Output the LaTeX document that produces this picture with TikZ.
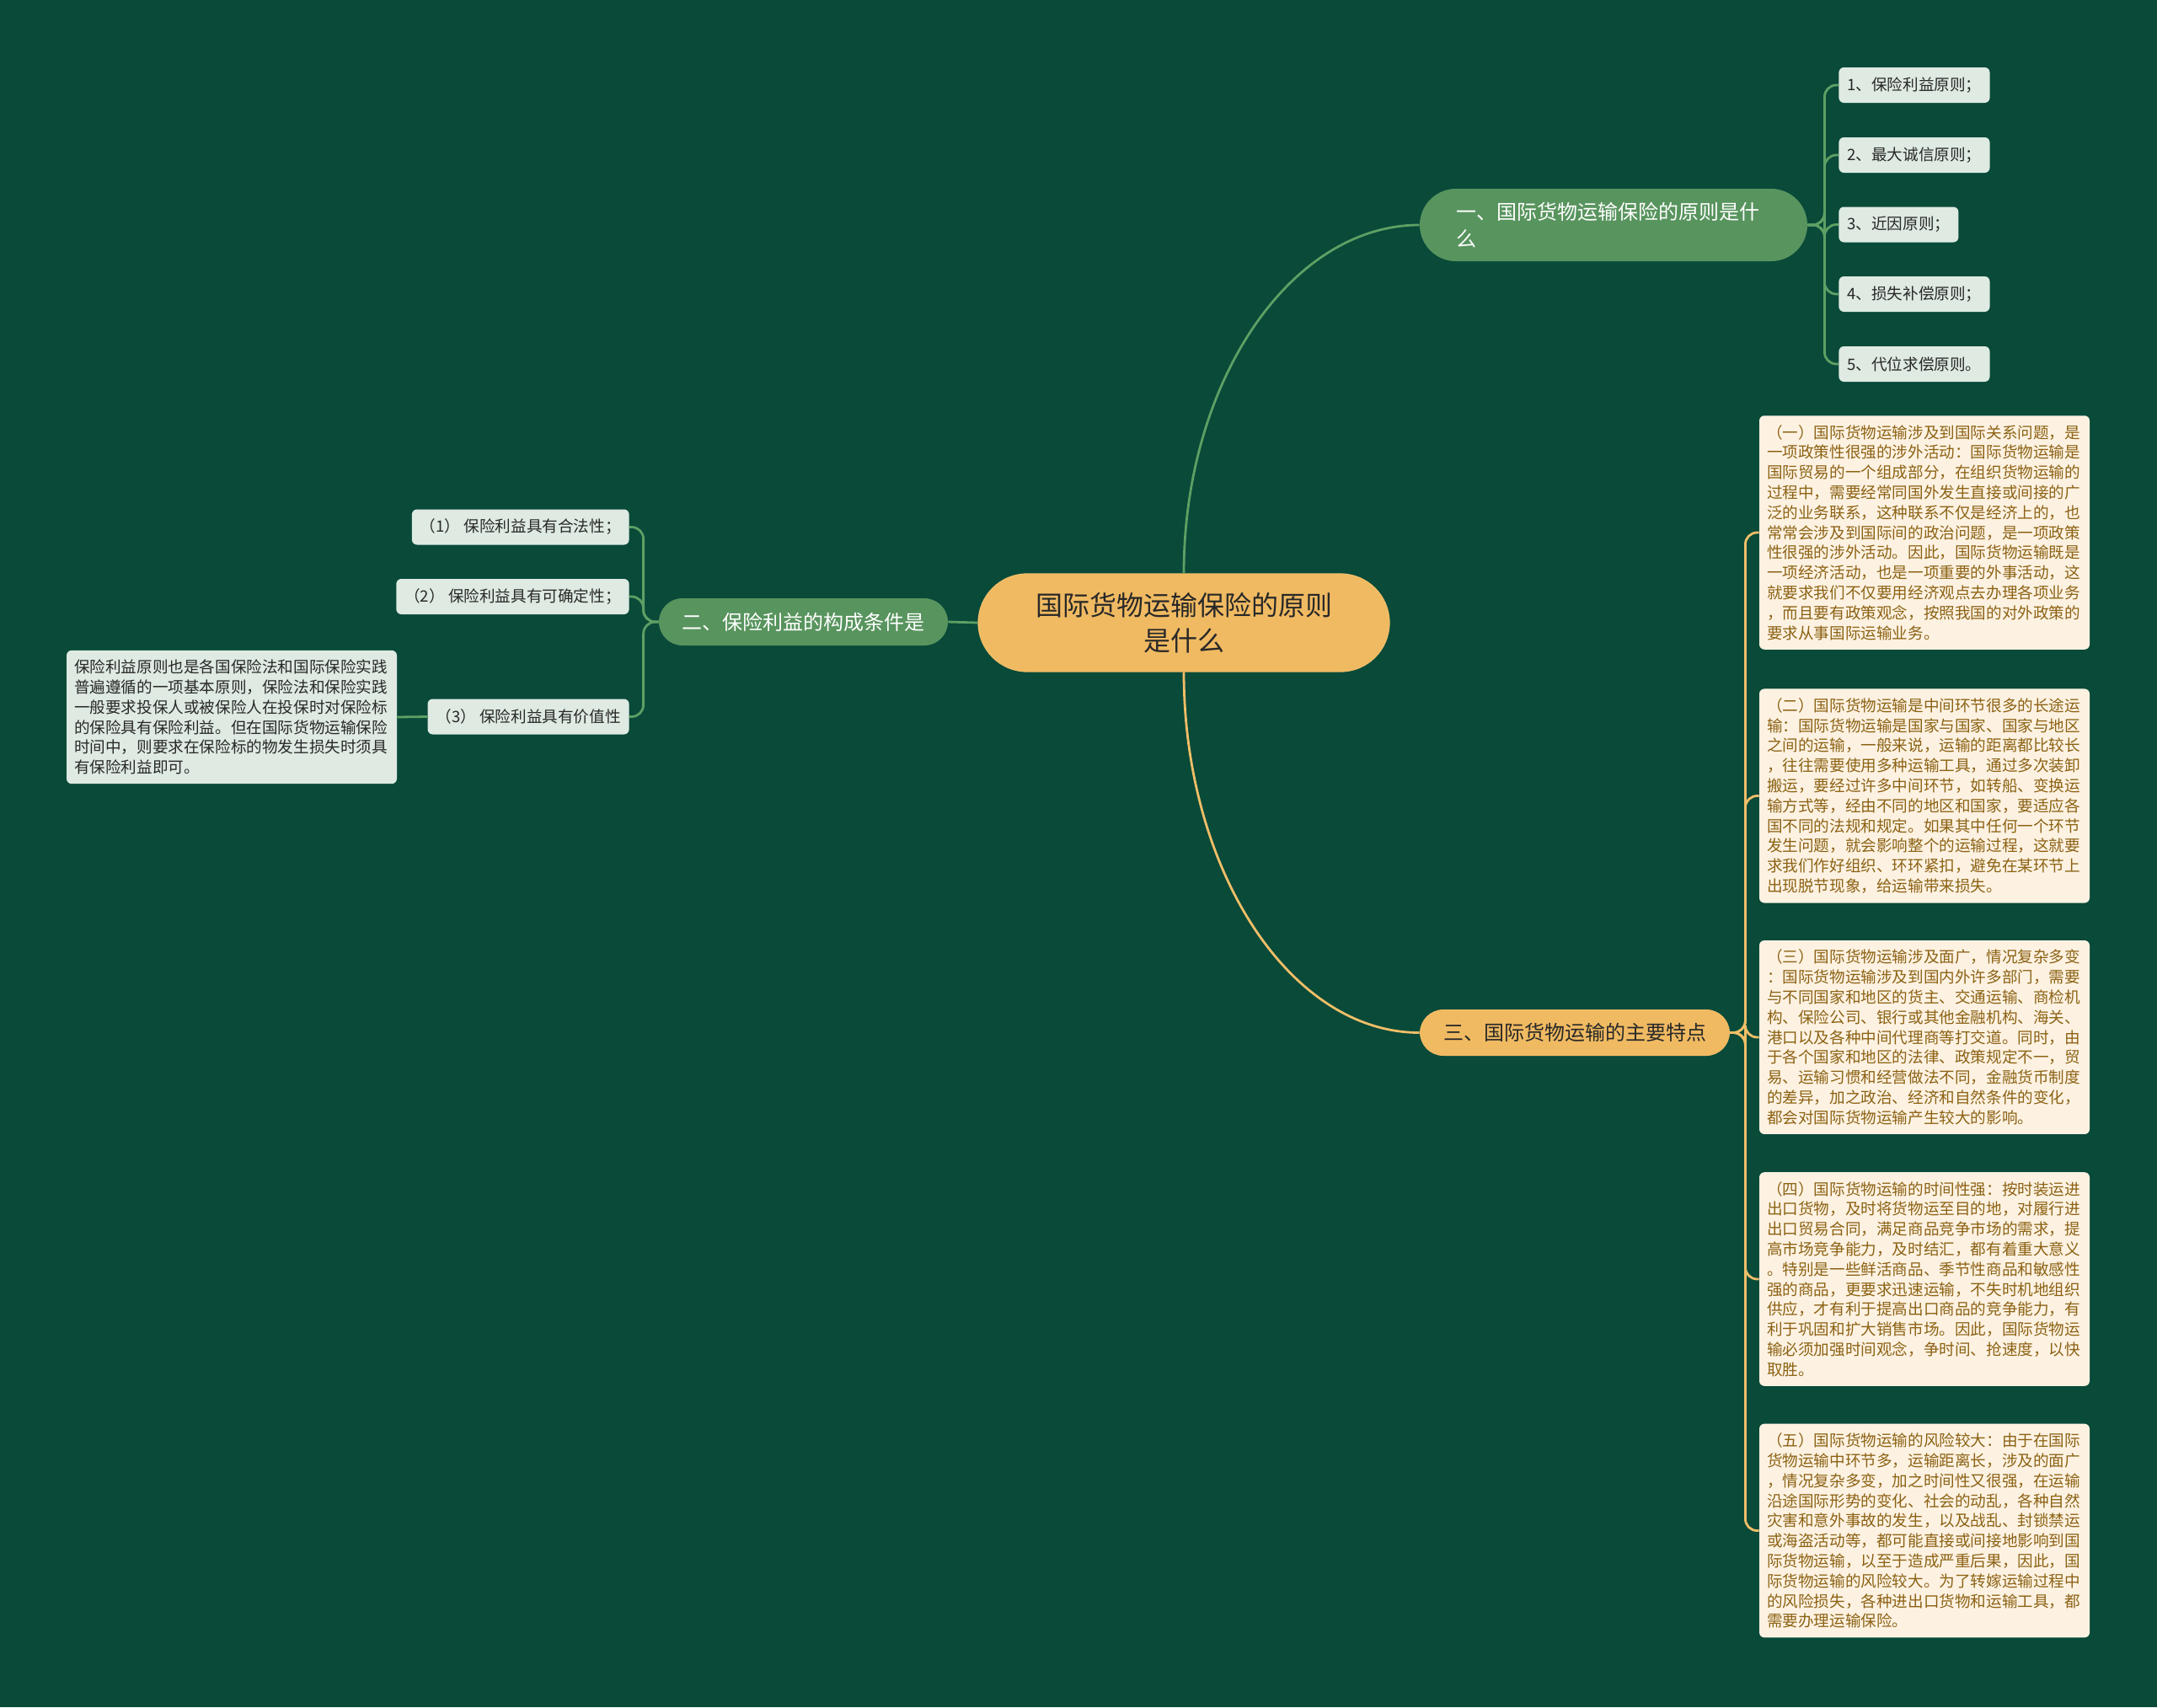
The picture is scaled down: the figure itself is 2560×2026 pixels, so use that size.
\documentclass[tikz,border=0pt]{standalone}
\usepackage{fontspec}
\newfontfamily\cjk{Noto Sans CJK SC}
\definecolor{bg}{RGB}{9,74,57}
\definecolor{gfill}{RGB}{88,148,94}
\definecolor{gline}{RGB}{94,160,100}
\definecolor{ofill}{RGB}{240,186,98}
\definecolor{oline}{RGB}{240,190,104}
\definecolor{leaf}{RGB}{222,234,226}
\definecolor{cream}{RGB}{253,242,226}
\definecolor{brown}{RGB}{140,98,20}
\definecolor{dark}{RGB}{40,40,40}
\tikzset{
  pill/.style={inner sep=0pt, font=\cjk\fontsize{12pt}{16pt}\selectfont},
  leafbox/.style={fill=leaf, rounded corners=3pt, inner xsep=5pt, inner ysep=0pt, minimum height=21pt, text=dark, font=\cjk\fontsize{9.3pt}{11.9pt}\selectfont},
  textbox/.style={rounded corners=3pt, inner xsep=4.5pt, inner ysep=5.5pt, text width=187pt, align=left, font=\cjk\fontsize{9.3pt}{11.9pt}\selectfont},
  gconn/.style={draw=gline, line width=1.4pt, rounded corners=7pt},
  oconn/.style={draw=oline, line width=1.4pt, rounded corners=7pt},
}
\begin{document}
\begin{tikzpicture}[x=0.5pt,y=-0.5pt]
\path[fill=bg] (0,0) rectangle (2560,2026);
\useasboundingbox (0,0) rectangle (2560,2026);

% central
\node[pill, fill=ofill, draw=oline, line width=0.6pt, rounded corners=29pt, minimum width=244pt, minimum height=58pt, text=dark, align=center, font=\cjk\fontsize{16pt}{21pt}\selectfont] (c) at (1405,739) {国际货物运输保险的原则\\是什么};

% branches
\node[pill, fill=gfill, rounded corners=21.5pt, minimum width=230pt, minimum height=43pt, text=white, text width=187pt, align=left] (b1) at (1915,267) {一、国际货物运输保险的原则是什\\么};
\node[pill, fill=gfill, rounded corners=14pt, minimum width=171.5pt, minimum height=28pt, text=white] (b2) at (953.5,738) {二、保险利益的构成条件是};
\node[pill, fill=ofill, rounded corners=14pt, minimum width=184pt, minimum height=27.5pt, text=dark] (b3) at (1869,1225.5) {三、国际货物运输的主要特点};

% branch 1 leaves
\node[leafbox, anchor=west] (p1) at (2182,101) {1、保险利益原则；};
\node[leafbox, anchor=west] (p2) at (2182,184) {2、最大诚信原则；};
\node[leafbox, anchor=west] (p3) at (2182,266.5) {3、近因原则；};
\node[leafbox, anchor=west] (p4) at (2182,349) {4、损失补偿原则；};
\node[leafbox, anchor=west] (p5) at (2182,432) {5、代位求偿原则。};

% branch 2 leaves
\node[leafbox, anchor=east] (q1) at (747,625.5) {（1） 保险利益具有合法性；};
\node[leafbox, anchor=east] (q2) at (747,708) {（2） 保险利益具有可确定性；};
\node[leafbox, anchor=east] (q3) at (747,850.5) {（3） 保险利益具有价值性};

\node[textbox, fill=leaf, text=dark] (q3d) at (275,851) {保险利益原则也是各国保险法和国际保险实践\\普遍遵循的一项基本原则，保险法和保险实践\\一般要求投保人或被保险人在投保时对保险标\\的保险具有保险利益。但在国际货物运输保险\\时间中，则要求在保险标的物发生损失时须具\\有保险利益即可。};

% branch 3 boxes
\node[textbox, fill=cream, text=brown] (r1) at (2284,632) {（一）国际货物运输涉及到国际关系问题，是\\一项政策性很强的涉外活动：国际货物运输是\\国际贸易的一个组成部分，在组织货物运输的\\过程中，需要经常同国外发生直接或间接的广\\泛的业务联系，这种联系不仅是经济上的，也\\常常会涉及到国际间的政治问题，是一项政策\\性很强的涉外活动。因此，国际货物运输既是\\一项经济活动，也是一项重要的外事活动，这\\就要求我们不仅要用经济观点去办理各项业务\\，而且要有政策观念，按照我国的对外政策的\\要求从事国际运输业务。};
\node[textbox, fill=cream, text=brown] (r2) at (2284,944.5) {（二）国际货物运输是中间环节很多的长途运\\输：国际货物运输是国家与国家、国家与地区\\之间的运输，一般来说，运输的距离都比较长\\，往往需要使用多种运输工具，通过多次装卸\\搬运，要经过许多中间环节，如转船、变换运\\输方式等，经由不同的地区和国家，要适应各\\国不同的法规和规定。如果其中任何一个环节\\发生问题，就会影响整个的运输过程，这就要\\求我们作好组织、环环紧扣，避免在某环节上\\出现脱节现象，给运输带来损失。};
\node[textbox, fill=cream, text=brown] (r3) at (2284,1231) {（三）国际货物运输涉及面广，情况复杂多变\\：国际货物运输涉及到国内外许多部门，需要\\与不同国家和地区的货主、交通运输、商检机\\构、保险公司、银行或其他金融机构、海关、\\港口以及各种中间代理商等打交道。同时，由\\于各个国家和地区的法律、政策规定不一，贸\\易、运输习惯和经营做法不同，金融货币制度\\的差异，加之政治、经济和自然条件的变化，\\都会对国际货物运输产生较大的影响。};
\node[textbox, fill=cream, text=brown] (r4) at (2284,1518) {（四）国际货物运输的时间性强：按时装运进\\出口货物，及时将货物运至目的地，对履行进\\出口贸易合同，满足商品竞争市场的需求，提\\高市场竞争能力，及时结汇，都有着重大意义\\。特别是一些鲜活商品、季节性商品和敏感性\\强的商品，更要求迅速运输，不失时机地组织\\供应，才有利于提高出口商品的竞争能力，有\\利于巩固和扩大销售市场。因此，国际货物运\\输必须加强时间观念，争时间、抢速度，以快\\取胜。};
\node[textbox, fill=cream, text=brown] (r5) at (2284,1816.5) {（五）国际货物运输的风险较大：由于在国际\\货物运输中环节多，运输距离长，涉及的面广\\，情况复杂多变，加之时间性又很强，在运输\\沿途国际形势的变化、社会的动乱，各种自然\\灾害和意外事故的发生，以及战乱、封锁禁运\\或海盗活动等，都可能直接或间接地影响到国\\际货物运输，以至于造成严重后果，因此，国\\际货物运输的风险较大。为了转嫁运输过程中\\的风险损失，各种进出口货物和运输工具，都\\需要办理运输保险。};

% connectors
\begin{scope}[on background layer/.style={}]
\end{scope}
\draw[draw=gline, line width=1.4pt] (c.north) .. controls (1405,453) and (1532,267) .. (b1.west);
\draw[draw=oline, line width=1.4pt] (c.south) .. controls (1405,1032) and (1531,1225.5) .. (b3.west);
\draw[draw=gline, line width=1.4pt] (c.west) -- (b2.east);

\foreach \p in {p1,p2,p3,p4,p5}{
  \draw[gconn] (b1.east) -- ++(20,0) |- (\p.west);
}
\foreach \q in {q1,q2,q3}{
  \draw[gconn] (b2.west) -- ++(-18,0) |- (\q.east);
}
\draw[draw=gline, line width=1.4pt] (q3.west) -- (q3d.east);
\foreach \r in {r1,r2,r3,r4,r5}{
  \draw[oconn] (b3.east) -- ++(18,0) |- (\r.west);
}
\end{tikzpicture}
\end{document}
